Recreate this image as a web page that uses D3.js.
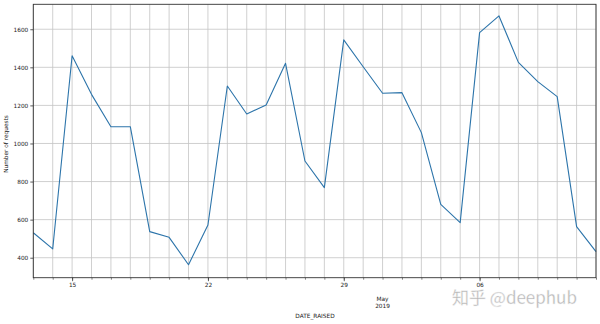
<!DOCTYPE html>
<html>
<head>
<meta charset="utf-8">
<script src="https://cdn.jsdelivr.net/npm/d3@7"></script>
<style>
  html, body { margin: 0; padding: 0; background: #fff; }
  svg { display: block; font-family: "DejaVu Sans", sans-serif; }
</style>
</head>
<body>
<div id="chart"></div>
<script>
// Daily request counts, 13 Apr 2019 .. 12 May 2019
const startDate = '2019-04-13';
const requests = [
  531, 446, 1461, 1258, 1088, 1088, 537, 507, 363, 572,
  1302, 1155, 1202, 1421, 908, 768, 1544, 1403, 1264, 1267,
  1057, 680, 584, 1582, 1670, 1426, 1325, 1246, 563, 432
];
const yTicks = [400, 600, 800, 1000, 1200, 1400, 1600];
const majorLabels = ['15', '22', '29', '06'];
const monthLabel = ['May', '2019'];
const yLabel = 'Number of requests';
const xLabel = 'DATE_RAISED';
const watermark = '知乎 @deephub';

const W = 600, H = 324;
const margin = { top: 4.3, right: 4, bottom: 46.3, left: 33.3 };
const iw = W - margin.left - margin.right;
const ih = H - margin.top - margin.bottom;

const t0 = d3.utcParse('%Y-%m-%d')(startDate);
const data = requests.map((v, i) => ({ date: d3.utcDay.offset(t0, i), value: v }));

const x = d3.scaleUtc()
  .domain(d3.extent(data, d => d.date))
  .range([0, iw]);
const y = d3.scaleLinear()
  .domain([295, 1731])
  .range([ih, 0]);

const svg = d3.select('#chart').append('svg')
  .attr('width', W)
  .attr('height', H);

const g = svg.append('g')
  .attr('transform', `translate(${margin.left},${margin.top})`);

const days = data.map(d => d.date);
const mondays = days.filter(d => d.getUTCDay() === 1);

// grid
g.append('g').selectAll('line.vg')
  .data(days)
  .join('line')
  .attr('x1', d => x(d)).attr('x2', d => x(d))
  .attr('y1', 0).attr('y2', ih)
  .attr('stroke', '#c4c4c4')
  .attr('stroke-width', 0.8);

g.append('g').selectAll('line.hg')
  .data(yTicks)
  .join('line')
  .attr('x1', 0).attr('x2', iw)
  .attr('y1', d => y(d)).attr('y2', d => y(d))
  .attr('stroke', '#c4c4c4')
  .attr('stroke-width', 0.8);

// line
const line = d3.line()
  .x(d => x(d.date))
  .y(d => y(d.value));

g.append('path')
  .datum(data)
  .attr('fill', 'none')
  .attr('stroke', '#2c74aa')
  .attr('stroke-width', 1.1)
  .attr('stroke-linejoin', 'round')
  .attr('d', line);

// frame
g.append('rect')
  .attr('width', iw)
  .attr('height', ih)
  .attr('fill', 'none')
  .attr('stroke', '#333')
  .attr('stroke-width', 0.9);

// y axis
const yAxis = g.append('g')
  .call(d3.axisLeft(y).tickValues(yTicks).tickSize(3).tickPadding(2).tickFormat(d3.format('d')));
yAxis.select('.domain').remove();
yAxis.selectAll('line').attr('stroke', '#333').attr('stroke-width', 0.8);
yAxis.selectAll('text')
  .attr('font-size', 5.8)
  .attr('fill', '#222')
  .attr('font-family', '"DejaVu Sans", sans-serif');

// x axis: minor daily ticks
const xMinor = g.append('g')
  .attr('transform', `translate(0,${ih})`)
  .call(d3.axisBottom(x).tickValues(days).tickSize(2).tickFormat(''));
xMinor.select('.domain').remove();
xMinor.selectAll('line').attr('stroke', '#333').attr('stroke-width', 0.6);

// x axis: major ticks on Mondays
const xMajor = g.append('g')
  .attr('transform', `translate(0,${ih})`)
  .call(d3.axisBottom(x).tickValues(mondays).tickSize(3.5).tickPadding(1.5)
    .tickFormat((d, i) => majorLabels[i]));
xMajor.select('.domain').remove();
xMajor.selectAll('line').attr('stroke', '#333').attr('stroke-width', 0.8);
xMajor.selectAll('text')
  .attr('font-size', 5.8)
  .attr('fill', '#222')
  .attr('font-family', '"DejaVu Sans", sans-serif');

// month label
const may1 = days.find(d => d.getUTCMonth() === 4 && d.getUTCDate() === 1);
g.append('text')
  .attr('x', x(may1))
  .attr('y', ih + 23)
  .attr('text-anchor', 'middle')
  .attr('font-size', 5.8)
  .attr('fill', '#222')
  .selectAll('tspan')
  .data(monthLabel)
  .join('tspan')
  .attr('x', x(may1))
  .attr('dy', (d, i) => i === 0 ? 0 : 7.2)
  .text(d => d);

// axis titles
svg.append('text')
  .attr('transform', `translate(7.8,${margin.top + ih / 2 + 3}) rotate(-90)`)
  .attr('text-anchor', 'middle')
  .attr('font-size', 5.8)
  .attr('fill', '#222')
  .text(yLabel);

svg.append('text')
  .attr('x', 315)
  .attr('y', 318)
  .attr('text-anchor', 'middle')
  .attr('font-size', 5.8)
  .attr('fill', '#222')
  .text(xLabel);

// watermark
svg.append('text')
  .attr('x', 452)
  .attr('y', 304)
  .attr('font-size', 17)
  .attr('font-family', '"Noto Sans CJK SC", "Noto Sans", sans-serif')
  .attr('fill', '#b4b4b4')
  .attr('stroke', '#f4f4f4')
  .attr('stroke-width', 0.4)
  .text(watermark);
</script>
</body>
</html>
